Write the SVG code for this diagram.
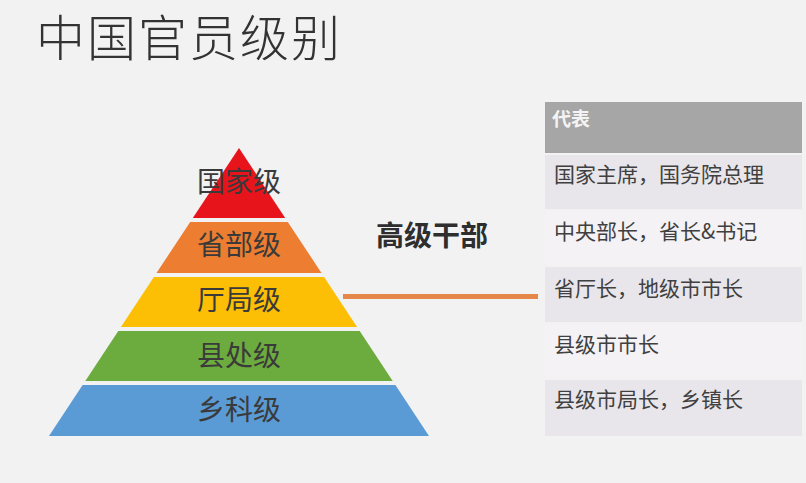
<svg xmlns="http://www.w3.org/2000/svg" width="806" height="483" viewBox="0 0 806 483">
<style>
.cjk{font-family:"Noto Sans CJK SC","Noto Sans CJK JP",sans-serif}
.lvl{font-size:28px;text-anchor:middle;fill:#3a3a3a}
.row{font-size:21px;fill:#404040}
.odd{fill:#e8e6ea}
.even{fill:#f4f2f5}
</style>
<rect width="806" height="483" fill="#f2f2f3"/>
<text class="cjk" x="36" y="56" font-size="49" font-weight="300" fill="#333" letter-spacing="2">中国官员级别</text>

<g id="pyramid">
<g id="level-guojia">
<polygon points="239,148 285.2,218 192.8,218" fill="#e8141c"/>
<text class="cjk lvl" x="239" y="192">国家级</text>
</g>
<g id="level-shengbu">
<polygon points="190.2,222 287.8,222 321.5,273 156.5,273" fill="#ec7d31"/>
<text class="cjk lvl" x="239" y="255">省部级</text>
</g>
<g id="level-tingju">
<polygon points="153.9,277 324.1,277 357.1,327 120.9,327" fill="#fcbf05"/>
<text class="cjk lvl" x="239" y="310">厅局级</text>
</g>
<g id="level-xianchu">
<polygon points="118.3,331 359.7,331 392.7,381 85.3,381" fill="#6cab3e"/>
<text class="cjk lvl" x="239" y="366">县处级</text>
</g>
<g id="level-xiangke">
<polygon points="82.6,385 395.4,385 429,436 49,436" fill="#5b9bd5"/>
<text class="cjk lvl" x="239" y="420">乡科级</text>
</g>
</g>

<g id="senior-label">
<text class="cjk" x="432" y="246" font-size="28" font-weight="bold" text-anchor="middle" fill="#2e2e2e">高级干部</text>
</g>

<g id="connectors">
<line x1="343" y1="296.5" x2="538" y2="296.5" stroke="#e6874a" stroke-width="5"/>
</g>

<g id="table">
<g id="header">
<rect x="545" y="102" width="257" height="51" fill="#a6a6a6"/>
<text class="cjk" x="552" y="126" font-size="19" font-weight="bold" fill="#f4f4f4">代表</text>
</g>
<g id="row1">
<rect class="odd" x="545" y="155" width="257" height="54"/>
<text class="cjk row" x="554" y="182">国家主席，国务院总理</text>
</g>
<g id="row2">
<rect class="even" x="545" y="211" width="257" height="54"/>
<text class="cjk row" x="554" y="239">中央部长，省长&amp;书记</text>
</g>
<g id="row3">
<rect class="odd" x="545" y="267" width="257" height="55"/>
<text class="cjk row" x="554" y="296">省厅长，地级市市长</text>
</g>
<g id="row4">
<rect class="even" x="545" y="324" width="257" height="54"/>
<text class="cjk row" x="554" y="352">县级市市长</text>
</g>
<g id="row5">
<rect class="odd" x="545" y="380" width="257" height="56"/>
<text class="cjk row" x="554" y="407">县级市局长，乡镇长</text>
</g>
</g>
</svg>
